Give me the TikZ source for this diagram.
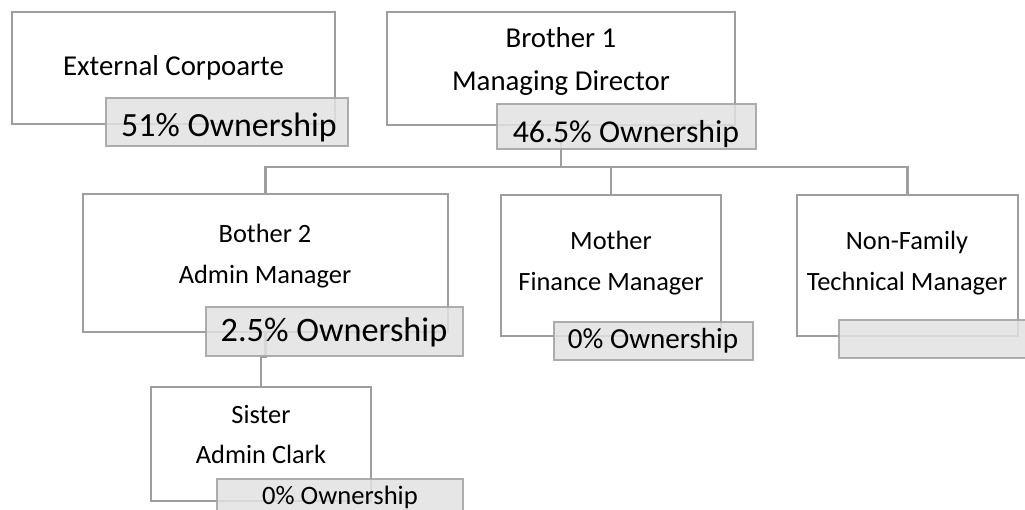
\documentclass[tikz,border=0pt]{standalone}
\usepackage{fontspec}
\setmainfont{Carlito}
\usetikzlibrary{calc,fit}
\pgfdeclarelayer{background}
\pgfsetlayers{background,main}
\definecolor{edgegray}{RGB}{158,158,158}
\definecolor{tagedge}{RGB}{165,165,165}
\definecolor{tagfill}{RGB}{226,226,226}
\tikzset{
  member/.style={draw=edgegray, line width=2.2pt, fill=white, inner sep=0pt, outer sep=0pt},
  tag/.style={draw=tagedge, line width=2.2pt, fill=tagfill, fill opacity=0.85, draw opacity=0.9, inner sep=0pt, outer sep=0pt},
  link/.style={draw=edgegray, line width=2.2pt},
  headtxt/.style={anchor=base, inner sep=0pt, font=\fontsize{28.8}{34}\selectfont},
  roletxt/.style={anchor=base, inner sep=0pt, font=\fontsize{26.4}{32}\selectfont},
}
\begin{document}
\begin{tikzpicture}[x=1pt,y=-1pt]
\useasboundingbox (0,0) rectangle (1025,509);
\clip (0,0) rectangle (1025,509);

% people boxes
\node[member, fit={(12,12) (335,124)}]  (ext) {};
\node[member, fit={(387,12) (735,125)}] (b1)  {};
\node[member, fit={(83,194) (448,332)}] (b2)  {};
\node[member, fit={(501,195) (721,336)}] (mom) {};
\node[member, fit={(797,195) (1018,336)}] (nf) {};
\node[member, fit={(151,387) (371,501)}] (sis) {};

% ownership tags
\node[tag, fit={(106,98) (348,146)}]   (own1) {};
\node[tag, fit={(497,104) (756,149)}]  (own2) {};
\node[tag, fit={(206,307) (463,356)}]  (own3) {};
\node[tag, fit={(554,322) (753,360)}]  (own4) {};
\node[tag, fit={(839,320) (1040,358)}] (own5) {};
\node[tag, fit={(217,479) (463,517)}]  (own6) {};

% names and roles
\node[headtxt] (extname) at (173.5,75) {External Corpoarte};
\node[headtxt] (b1name)  at (561,47)  {Brother 1};
\node[headtxt] (b1role)  at (561,90)  {Managing Director};
\node[roletxt] (b2name)  at (265,242) {Bother 2};
\node[roletxt] (b2role)  at (265,283) {Admin Manager};
\node[roletxt] (momname) at (611,249) {Mother};
\node[roletxt] (momrole) at (611,290) {Finance Manager};
\node[roletxt] (nfname)  at (907,249) {Non-Family};
\node[roletxt] (nfrole)  at (907,290) {Technical Manager};
\node[roletxt] (sisname) at (261,423) {Sister};
\node[roletxt] (sisrole) at (261,463) {Admin Clark};

% ownership figures
\node[anchor=base, inner sep=0pt, font=\fontsize{33.9}{40}\selectfont] (own1txt) at (229,136) {51\% Ownership};
\node[anchor=base, inner sep=0pt, font=\fontsize{31.8}{38}\selectfont] (own2txt) at (626,142) {46.5\% Ownership};
\node[anchor=base, inner sep=0pt, font=\fontsize{34.3}{40}\selectfont] (own3txt) at (334,341) {2.5\% Ownership};
\node[anchor=base, inner sep=0pt, font=\fontsize{29.1}{35}\selectfont] (own4txt) at (653,348) {0\% Ownership};
\node[anchor=base, inner sep=0pt, font=\fontsize{26.6}{32}\selectfont] (own6txt) at (340,504) {0\% Ownership};

% reporting lines
\begin{pgfonlayer}{background}
  \draw[link] (b1.south) -- ($(b1.south)+(0,42)$) coordinate (hub);
  \draw[link] (hub) -| (b2.north);
  \draw[link] (hub) -| (mom.north);
  \draw[link] (hub) -| (nf.north);
  \draw[link] (b2.south) -- ($(b2.south)+(0,25)$) -| (sis.north);
\end{pgfonlayer}
\end{tikzpicture}
\end{document}
